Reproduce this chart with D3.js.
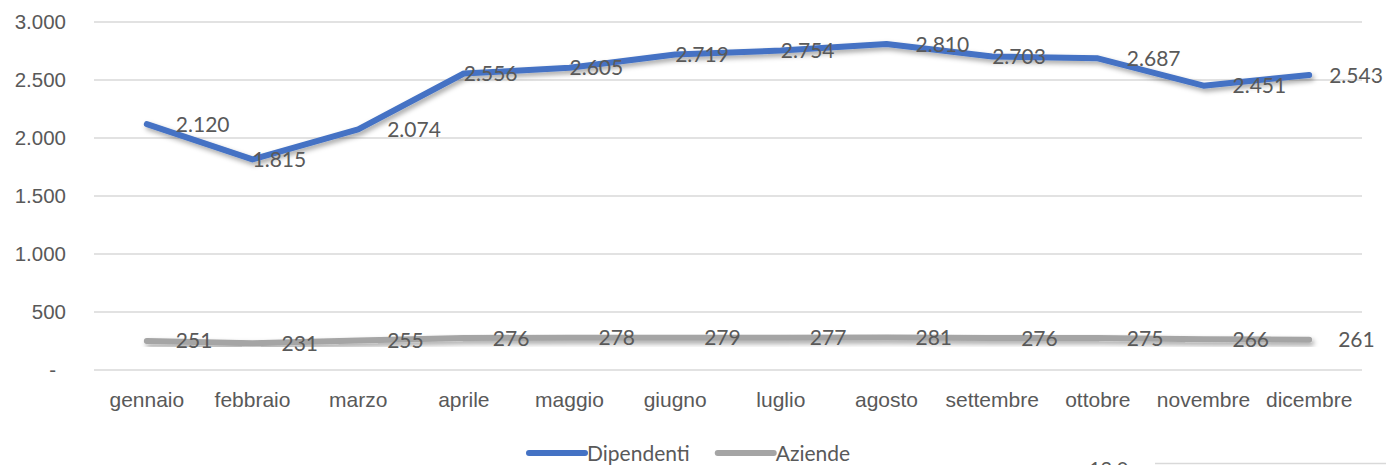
<!DOCTYPE html>
<html>
<head>
<meta charset="utf-8">
<script src="https://cdn.jsdelivr.net/npm/d3@7"></script>
<style>
  body { margin: 0; background: #fff; }
  svg { display: block; font-family: Lato, "Open Sans", sans-serif; }
  .tick text, .lbl, .legend text { fill: #595959; }
</style>
</head>
<body>
<svg width="1386" height="465"></svg>
<script>
// months on the x axis
var months = ["gennaio", "febbraio", "marzo", "aprile", "maggio", "giugno",
              "luglio", "agosto", "settembre", "ottobre", "novembre", "dicembre"];

// series values
var dipendenti = [2120, 1815, 2074, 2556, 2605, 2719, 2754, 2810, 2703, 2687, 2451, 2543];
var aziende    = [251, 231, 255, 276, 278, 279, 277, 281, 276, 275, 266, 261];

// y axis ticks and how they are printed
var yTicks      = [0, 500, 1000, 1500, 2000, 2500, 3000];
var yTickLabels = ["-", "500", "1.000", "1.500", "2.000", "2.500", "3.000"];

// where each Dipendenti label sits ("r" = right of the point, "rn" = right but closer, "on" = starting at the point)
var dipLabelPos = ["r", "on", "r", "on", "on", "on", "on", "r", "on", "r", "r", "rn"];

var labelDx = {r: 29, rn: 20, on: 0};

var svg = d3.select("svg"),
    margin = {top: 22, right: 24, bottom: 95, left: 94},
    width = +svg.attr("width") - margin.left - margin.right,
    height = +svg.attr("height") - margin.top - margin.bottom,
    g = svg.append("g").attr("transform", "translate(" + margin.left + "," + margin.top + ")");

var it = d3.formatLocale({decimal: ",", thousands: ".", grouping: [3], currency: ["€", ""]});
var fmt = it.format(",d");

var x = d3.scaleBand()
    .domain(months)
    .range([0, width]);

var y = d3.scaleLinear()
    .domain([0, 3000])
    .range([height, 0]);

var defs = svg.append("defs");
var shadow = defs.append("filter")
    .attr("id", "shadow")
    .attr("x", "-5%").attr("y", "-50%")
    .attr("width", "110%").attr("height", "200%");
shadow.append("feDropShadow")
    .attr("dx", 2).attr("dy", 3)
    .attr("stdDeviation", 2.5)
    .attr("flood-color", "#000")
    .attr("flood-opacity", 0.35);

// gridlines
g.append("g")
    .attr("class", "grid")
    .selectAll("line")
    .data(yTicks)
  .enter().append("line")
    .attr("x1", 0)
    .attr("x2", width)
    .attr("y1", function(d) { return y(d); })
    .attr("y2", function(d) { return y(d); })
    .attr("stroke", "#d9d9d9")
    .attr("stroke-width", 1.3);

// y axis
var yAxis = g.append("g")
    .attr("class", "axis axis--y")
    .call(d3.axisLeft(y)
        .tickValues(yTicks)
        .tickSize(0)
        .tickPadding(28)
        .tickFormat(function(d, i) { return yTickLabels[i]; }));
yAxis.select(".domain").remove();
yAxis.selectAll("text")
    .attr("font-size", 20.5)
    .attr("dx", function(d) { return d === 0 ? -10 : 0; });

// x axis
var xAxis = g.append("g")
    .attr("class", "axis axis--x")
    .attr("transform", "translate(0," + height + ")")
    .call(d3.axisBottom(x).tickSize(0).tickPadding(22));
xAxis.select(".domain").remove();
xAxis.selectAll("text").attr("font-size", 21);

var cx = function(d, i) { return x(months[i]) + x.bandwidth() / 2; };

var line = d3.line()
    .x(cx)
    .y(function(d) { return y(d); });

function drawSeries(data, color) {
    g.append("path")
        .datum(data)
        .attr("fill", "none")
        .attr("stroke", color)
        .attr("stroke-width", 6)
        .attr("stroke-linejoin", "round")
        .attr("stroke-linecap", "round")
        .attr("filter", "url(#shadow)")
        .attr("d", line);
}

drawSeries(aziende, "#a5a5a5");
drawSeries(dipendenti, "#4472c4");

// data labels
g.append("g").selectAll("text")
    .data(dipendenti)
  .enter().append("text")
    .attr("class", "lbl")
    .attr("font-size", 21)
    .attr("x", function(d, i) { return cx(d, i) + labelDx[dipLabelPos[i]]; })
    .attr("y", function(d) { return y(d); })
    .attr("dy", "0.36em")
    .text(function(d) { return fmt(d); });

g.append("g").selectAll("text")
    .data(aziende)
  .enter().append("text")
    .attr("class", "lbl")
    .attr("font-size", 21)
    .attr("x", function(d, i) { return cx(d, i) + labelDx.r; })
    .attr("y", function(d) { return y(d); })
    .attr("dy", "0.36em")
    .text(function(d) { return fmt(d); });

// legend
var legendItems = [
    {name: "Dipendenti", color: "#4472c4"},
    {name: "Aziende", color: "#a5a5a5"}
];
var legend = svg.append("g")
    .attr("class", "legend")
    .attr("transform", "translate(529,453)");
var lx = 0;
legendItems.forEach(function(item) {
    var lg = legend.append("g").attr("transform", "translate(" + lx + ",0)");
    lg.append("line")
        .attr("x1", 0).attr("x2", 56)
        .attr("y1", 0).attr("y2", 0)
        .attr("stroke", item.color)
        .attr("stroke-width", 6)
        .attr("stroke-linecap", "round");
    var t = lg.append("text")
        .attr("x", 58)
        .attr("dy", "0.36em")
        .attr("font-size", 21)
        .text(item.name);
    lx += 58 + t.node().getComputedTextLength() + 28;
});

// edge of the next chart peeking in at the bottom
svg.append("text")
    .attr("x", 1089)
    .attr("y", 476)
    .attr("font-size", 20)
    .attr("fill", "#595959")
    .text("12,0");
svg.append("line")
    .attr("x1", 1155).attr("x2", 1386)
    .attr("y1", 463.5).attr("y2", 463.5)
    .attr("stroke", "#d9d9d9")
    .attr("stroke-width", 1.3);
</script>
</body>
</html>
